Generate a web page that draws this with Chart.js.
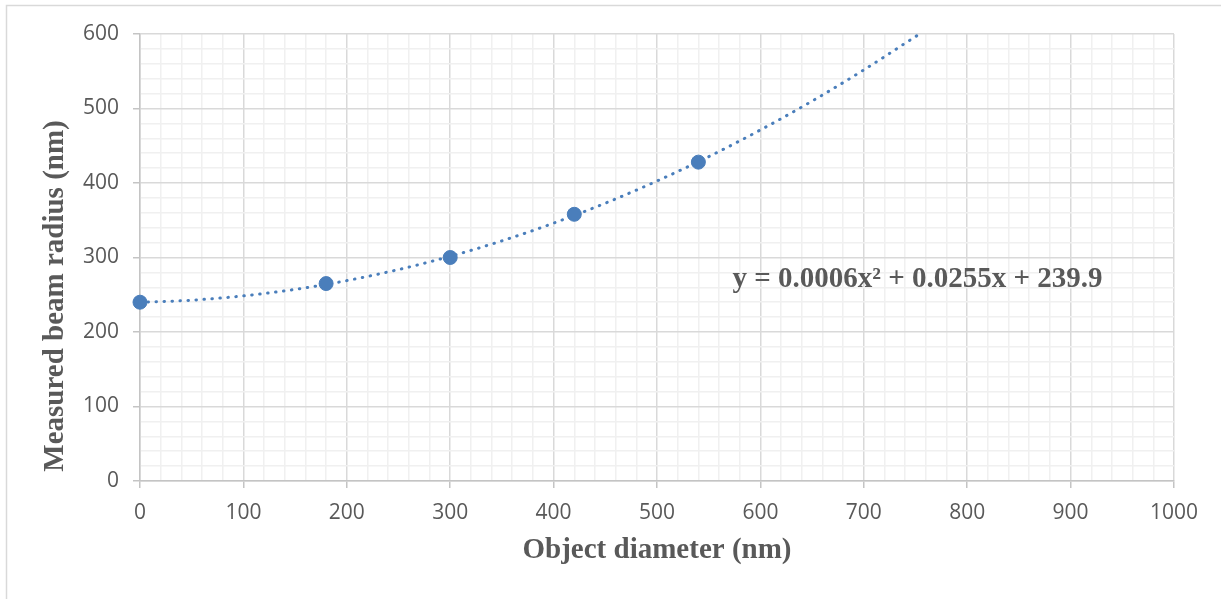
<!DOCTYPE html>
<html>
<head>
<meta charset="utf-8">
<script src="https://cdn.jsdelivr.net/npm/chart.js@4.4.0/dist/chart.umd.min.js"></script>
<style>
html,body{margin:0;padding:0;background:#fff;}
canvas{display:block;}
</style>
</head>
<body>
<canvas id="c" width="1221" height="599"></canvas>
<script>
// Measured points
const objectDiameter = [0, 180, 300, 420, 540];
const beamRadius = [240, 265, 300, 358, 428];
// Trendline (polynomial, order 2)
const trendX = [0, 50, 100, 150, 200, 250, 300, 350, 400, 450, 500, 550, 600, 650, 700, 750, 754];
const trendY = [239.9, 242.7, 248.5, 257.2, 269.0, 283.8, 301.6, 322.3, 346.1, 372.9, 402.7, 435.4, 471.2, 510.0, 551.8, 596.5, 600];
const xTicks = [0, 100, 200, 300, 400, 500, 600, 700, 800, 900, 1000];
const yTicks = [0, 100, 200, 300, 400, 500, 600];
const equationText = 'y = 0.0006x² + 0.0255x + 239.9';
const xTitle = 'Object diameter (nm)';
const yTitle = 'Measured beam radius (nm)';

const TXT = '#595959';
const MAJOR = '#d9d9d9';
const MINOR = '#f0f0f0';
const AXIS = '#c4c4c4';

const decor = {
  id: 'decor',
  beforeDraw(chart) {
    const ctx = chart.ctx;
    ctx.save();
    ctx.fillStyle = '#fff';
    ctx.fillRect(0, 0, chart.width, chart.height);
    ctx.strokeStyle = '#d9d9d9';
    ctx.lineWidth = 1.5;
    ctx.beginPath();
    ctx.moveTo(6.5, chart.height);
    ctx.lineTo(6.5, 5.5);
    ctx.lineTo(chart.width, 5.5);
    ctx.stroke();
    ctx.restore();
  },
  afterDraw(chart) {
    const ctx = chart.ctx;
    const a = chart.chartArea;
    const xs = chart.scales.x, ys = chart.scales.y;
    ctx.save();
    ctx.fillStyle = TXT;
    ctx.font = 'bold 29px "Liberation Serif"';
    ctx.textAlign = 'center';
    ctx.textBaseline = 'middle';
    ctx.fillText(xTitle, (a.left + a.right) / 2, 551);
    ctx.save();
    ctx.translate(56, 296);
    ctx.rotate(-Math.PI / 2);
    ctx.fillText(yTitle, 0, 0);
    ctx.restore();
    ctx.textAlign = 'left';
    ctx.textBaseline = 'alphabetic';
    ctx.fillText(equationText, xs.getPixelForValue(573), ys.getPixelForValue(260));
    ctx.restore();
  }
};

new Chart(document.getElementById('c'), {
  type: 'scatter',
  data: {
    datasets: [
      {
        label: 'Trendline',
        data: trendX.map((x, i) => ({x: x, y: trendY[i]})),
        showLine: true,
        borderColor: '#4a7ebb',
        borderWidth: 3,
        borderDash: [0.5, 7.5],
        borderCapStyle: 'round',
        cubicInterpolationMode: 'monotone',
        pointRadius: 0,
        fill: false,
        order: 2
      },
      {
        label: 'Measured',
        data: objectDiameter.map((x, i) => ({x: x, y: beamRadius[i]})),
        backgroundColor: '#4a7ebb',
        borderColor: '#4a7ebb',
        pointRadius: 7,
        pointHoverRadius: 7,
        clip: false,
        order: 1
      }
    ]
  },
  options: {
    responsive: false,
    animation: false,
    events: [],
    layout: { padding: { left: 0, top: 34, right: 47, bottom: 0 } },
    plugins: { legend: { display: false }, tooltip: { enabled: false } },
    scales: {
      x: {
        type: 'linear',
        min: 0, max: 1000,
        afterFit(s) { s.height = 118; },
        ticks: {
          stepSize: 20,
          autoSkip: false,
          maxRotation: 0,
          padding: 12,
          color: TXT,
          font: { family: '"Open Sans"', size: 21 },
          callback: v => xTicks.includes(v) ? String(v) : ''
        },
        grid: {
          color: c => (c.tick && c.tick.value % 100 === 0) ? MAJOR : MINOR,
          tickColor: c => (c.tick && c.tick.value % 100 === 0) ? AXIS : 'rgba(0,0,0,0)',
          tickLength: 7,
          lineWidth: 1.5
        },
        border: { color: AXIS, width: 1.5 }
      },
      y: {
        type: 'linear',
        min: 0, max: 600,
        afterFit(s) { s.width = 140; },
        ticks: {
          stepSize: 20,
          autoSkip: false,
          padding: 14,
          color: TXT,
          font: { family: '"Open Sans"', size: 21 },
          callback: v => yTicks.includes(v) ? String(v) : ''
        },
        grid: {
          color: c => (c.tick && c.tick.value % 100 === 0) ? MAJOR : MINOR,
          tickColor: c => (c.tick && c.tick.value % 100 === 0) ? AXIS : 'rgba(0,0,0,0)',
          tickLength: 7,
          lineWidth: 1.5
        },
        border: { color: AXIS, width: 1.5 }
      }
    }
  },
  plugins: [decor]
});
</script>
</body>
</html>
